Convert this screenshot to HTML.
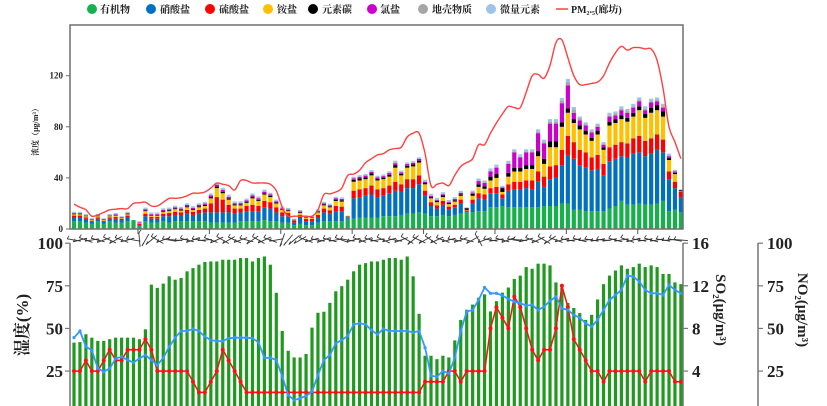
<!DOCTYPE html>
<html><head><meta charset="utf-8">
<style>
html,body{margin:0;padding:0;background:#fff;}
svg{display:block;}
.t{font-family:"Liberation Serif","Noto Serif CJK SC",serif;font-weight:bold;fill:#222;}
</style></head>
<body>
<svg id="chart" width="827" height="406" viewBox="0 0 827 406" xmlns="http://www.w3.org/2000/svg">
<g id="legend">
  <g><circle cx="92" cy="9" r="5" fill="#16b14c"/><text class="t" x="100" y="13" font-size="10">有机物</text></g>
  <g><circle cx="151" cy="9" r="5" fill="#0070c0"/><text class="t" x="160" y="13" font-size="10">硝酸盐</text></g>
  <g><circle cx="210" cy="9" r="5" fill="#ff0000"/><text class="t" x="219" y="13" font-size="10">硫酸盐</text></g>
  <g><circle cx="268" cy="9" r="5" fill="#ffc000"/><text class="t" x="277" y="13" font-size="10">铵盐</text></g>
  <g><circle cx="313" cy="9" r="5" fill="#000"/><text class="t" x="322" y="13" font-size="10">元素碳</text></g>
  <g><circle cx="372" cy="9" r="5" fill="#cc00cc"/><text class="t" x="380" y="13" font-size="10">氯盐</text></g>
  <g><circle cx="423" cy="9" r="5" fill="#a6a6a6"/><text class="t" x="432" y="13" font-size="10">地壳物质</text></g>
  <g><circle cx="491" cy="9" r="5" fill="#9dc3e6"/><text class="t" x="500" y="13" font-size="10">微量元素</text></g>
  <g><line x1="556" y1="9" x2="568" y2="9" stroke="#ff4040" stroke-width="1.5"/><text class="t" x="571" y="13" font-size="10">PM₂.₅(廊坊)</text></g>
</g>
<text class="t" font-size="8" font-weight="normal" transform="translate(38,130) rotate(-90)" text-anchor="middle">浓度（μg/m³）</text>
<text class="t" font-size="17" transform="translate(28,325) rotate(-90)" text-anchor="middle">湿度(%)</text>
<text class="t" font-size="15" transform="translate(716,310) rotate(90)" text-anchor="middle">SO₂(μg/m³)</text>
<text class="t" font-size="15" transform="translate(798,310) rotate(90)" text-anchor="middle">NO₂(μg/m³)</text>
<g id="topG"></g>
<g id="botG"></g>
</svg>
<script>
const org=[6,6,5,4,6,4,6,5,5,6,7,2, 6,5,5,6,5,6,6,6,6,6,6, 5,5,5,5,5,6,6,6,6,7,6,6,5,5, 3,4,3,3,5,6,6,6,6,8, 8,9,9,9,9,10,10,10,11,12,12,13, 12,10,10,11,10,11,12,13,13,14,14, 17,17,18,17,17,17,17,17,17,18,18,18,20, 20,15,15,14,14,14,14,16,18,22,19,19,20, 19,19,20,22,14,15,13];
const nit=[3,3,3,2,2,2,2,3,2,3,0,1, 4,3,3,4,5,5,5,6,5,6,7, 8,8,8,8,7,7,8,8,8,10,10,7,5,5, 2,5,3,3,4,7,6,8,8,1, 16,16,17,18,16,16,18,20,18,20,20,22, 14,8,6,8,5,6,8,1,7,10,9, 11,11,6,13,14,14,15,14,20,15,21,22,30, 38,40,35,34,32,33,28,37,37,35,37,40,40, 38,40,42,38,25,17,12];
const sul=[1.5,1.5,1,.5,1,.5,1,1.5,1,1.5,0,1, 2,1.5,1.5,2,2.5,2.5,2,3,2.5,3,3, 7,12,10,6,4,3,4,5,4,5,5,4,3,2.5, 1.5,2,2,2,2,3,2.5,4,3.5,.3, 6,6,6,7,6,6,6,7,6,7,7,7, 4,3,2.5,3,2.5,2,3,.5,3,4,4, 4,5,3,5,6,6,6,7,8,8,10,10,12, 15,13,12,12,10,11,9,11,11,11,11,12,13, 12,12,12,10,6,5,4];
const amm=[1,1,1,.5,1,.5,1,1,.5,1,0,.5, 2,1,1,1.5,1.5,2,1.5,2,1.5,2,2, 4,7,5,4,2.5,2.5,2.5,5,4,5,4,3,2,1.5, .3,1.5,.8,.8,2,2.5,2.5,4,4,.3, 7,7,7,8,7,7,7,11,7,9,10,10, 5,3,2.5,3,2,2.5,3,.5,3,5,4.5, 6,7,2,6,8,8,9,9,12,10,15,14,18, 18,15,16,14,13,16,11,17,17,18,17,17,20, 18,20,19,18,9,6,.5];
const ec=[.4,.4,.3,.3,.3,.3,.3,.4,.3,.4,0,.3, .6,.5,.5,.6,.7,.7,.7,.8,.7,.8,.9, 1,1.2,1.2,1,.8,.8,.9,1,.9,1,1,.8,.6,.6, .3,.6,.4,.4,.6,.8,.8,1,1,.3, 1.5,1.5,1.5,1.5,1.2,1.2,1.5,2,1.2,1.5,1.5,1.5, 1,1,1,1.2,1,1,1.2,1.2,1.5,2,2, 3,3,3,3,3,3,3,3,4,4,4.5,4.5,3.5, 3.5,3,3,3,2.5,3,2,3,3,3,3,3,3, 3,4,4,4,1.5,1,.8];
const cl=[.6,.6,.5,.4,.5,.4,.5,.6,.5,.6,0,.5, .8,.6,.6,.8,.8,.8,.8,1,.8,1,1, 1.2,1.5,1.5,1.2,.9,.9,1,1.2,1.2,1.2,1,.8,.6,.6, .3,.6,.4,.4,.6,.8,.8,1,1,.2, 1.2,1.3,1.3,1.3,1.2,1.2,1.3,1.5,1.2,1.3,1.3,1.3, 1,1,.8,1,.8,1,1,.3,1,2.5,2.5, 4,5,.5,7,12,8,10,10,14,12,14,14,15, 18,5,4,4,4,3,2,4,3,4,4,4,4, 3,4,3,3,1.5,1,.3];
const crust=[.2,.2,.2,.2,.2,.2,.2,.2,.2,.2,0,.2, .3,.3,.3,.3,.3,.3,.3,.3,.3,.3,.3, .4,.4,.4,.4,.4,.4,.4,.4,.4,.4,.4,.4,.3,.3, .2,.2,.2,.2,.2,.2,.2,.2,.2,.1, .3,.3,.3,.3,.3,.3,.3,.5,.3,.3,.3,.3, .4,.4,.4,.4,.4,.4,.4,.2,.4,.5,.5, .6,.6,.3,.6,.6,.6,.6,.6,1,1,1.5,1.5,2, 2.5,2.5,1.5,1,1,1,.5,1,1,1,1,1,1, 1,1,1,1,.5,.3,.2];
const trace=[.8,.8,.8,.6,.8,.6,.8,.8,.6,.8,0,.6, 1,1,1,1,1,1,1,1,1,1,1, 1.2,1.2,1.2,1.2,1,1,1,1.2,1,1.2,1,1,1,1, .5,1,.8,.8,1,1,1,1,1,.3, 1,1,1,1,1,1,1,1.5,1,1,1,1, 1.2,1.2,1.2,1.2,1,1,1.2,.3,1.2,1.5,1.5, 1.8,1.8,1,1.8,1.8,1.8,1.8,1.8,2,2,2,2,2, 2.5,2,1.5,1.5,1.5,1.5,1.5,2,2,2,2,2,2, 2,2,2,2,1.5,1,.3];
const pm25=[19.5,17,15,10,11,13,15,15.5,16,16, 20,20.5,21,18,18,21,24,24,24.5,26, 28,28,29,32,36,35,34,30.5,38,38, 36,36,36,35,30,17,10,10,10,10, 10,15,27,27.5,29,32,42,43,46,52, 55,58,59,62,63,64,72,75,75,59, 34,35,36,34,42,49,52,55,66,66, 75,83,90,96,95,95,107,120,121,118, 128,146,148,134,120,113,113,114,115,120, 130,138,143,140,142,142,141,141,132,110, 80,68,55];
const humidity=[41.7,42,46.6,44.6,42.7,42.7,43.7,44.6,44.6,44.6,44.6,43.7,49.5,75.7,73.8,76.3,80.6,78.6,79.6,83.5,85.4,87.4,89,89.3,89.3,90.3,90.3,90.3,91.3,91.3,89.3,91.3,92.2,87.4,70.9,48.5,36.9,33,33,35,50.5,59.2,59.8,65,71.8,74.8,78.6,83.5,87.4,88.3,89.3,89.3,90.3,91.3,91.3,90.3,92.2,80.6,
 58.6,34,34,32,34,33,43,55,61,64,68,70,60,66,71,74,79,81,86,85,88,88,87,77,74,65,62,59,55,58,67,76,81,84,87,85,86,88,86,87,86,82,82,77,76];
const so2=[4,4,5,4,4,5,6,5,5,6,6,6,7,6,4, 4,4,4,4,4, 3,2,2,3,4,6, 5,4,3,2,
 2,2,2,2,2,2,2,2,2,2,2,2,2,2,2,2,2,2,2,2,2,2,2,2,2,2,2,2,2,
 3,3,3,3,4,4,3,4,4,4,4,8,10,9,8,11,10,8,6,5,6,6,8,12,10,7,6,5,4,4,3,4,4,4,4,4,4,3,4,4,4,4,3,3];
const no2=[44.6,48.5,39.3,37.3,26.6,24.6,26.6,32.4,33.4,31.5,30,32.4,34.4,31.5,28.5,32.8,39.3,44.6,48.5,48.5,49.7,48.5,45.2,43.2,42.6,42.6,44.2,44.6,44.6,44.6,44.2,41.8,32.8,32.8,31.5,21.7,10.9,8,9,10.5,12.9,22.7,31.5,34.4,41.3,43.2,45.6,52.4,53,52.4,49,46.5,49.7,48.5,48.5,48.5,48.5,47.7,48.5,
 38.7,22.3,21.7,25,23.6,32.8,48.5,59.9,60.8,66.7,74,70.6,70.6,69.3,67.3,65.7,64.8,63.4,63.8,60.8,62.8,66.1,68.7,61.8,
 60.8,57.9,56.3,53,51,55,60.8,66.7,69.6,72.6,81,80.4,77.5,72.6,70.6,70.6,69.6,75.5,72.6,70.6];
const windDir=[10,-15,20,-10,15,-20,25,-30,20,-15,10,85,-60,-40,30,-20,10,5,-10,15,-20,10,-5,20,-25,30,-30,25,-20,15,-35,30,-25,20,-10,-70,-50,-40,-30,20,-15,10,-20,15,-10,20,10,-15,20,-20,15,-10,25,-15,10,-20,30,-40,25,-30,35,-25,20,-15,10,-20,15,-30,60,-20,10,-10,15,-20,10,5,-15,20,-25,30,-35,20,-15,10,-10,15,-5,10,-10,5,-10,15,-10,20,-15,10,-10,15,-10,10,-5,10,5];
const topTicks=[0,40,80,120];
const humTicks=[100,75,50,25];
const so2Ticks=[16,12,8,4];
const no2Ticks=[100,75,50,25];

const NS='http://www.w3.org/2000/svg';
function mk(tag,attrs,parent){const e=document.createElementNS(NS,tag);for(const k in attrs)e.setAttribute(k,attrs[k]);parent.appendChild(e);return e;}
const N=org.length;
const xC=i=>74+i*5.95;
const yTop=v=>229-v*1.2775;
const yBot=v=>413.7-v*1.705;
const ySO2=v=>413.7-v*10.66;
const topG=document.getElementById('topG');
const botG=document.getElementById('botG');

const series=[[org,'#16b14c','organic'],[nit,'#0070c0','nitrate'],[sul,'#ff0000','sulfate'],[amm,'#ffc000','ammonium'],[ec,'#000000','ec'],[cl,'#cc00cc','chloride'],[crust,'#a6a6a6','crustal'],[trace,'#9dc3e6','trace']];
for(let i=0;i<N;i++){
  let acc=0;
  for(const s of series){
    const arr=s[0],col=s[1],nm=s[2];
    const v=arr[i]; if(!v) continue;
    const r=mk('rect',{x:xC(i)-2.1,y:yTop(acc+v),width:4.2,height:yTop(acc)-yTop(acc+v),fill:col},topG);
    
    
    acc+=v;
  }
}
const pts=pm25.map((v,i)=>[xC(i),yTop(v)]);
let d='M'+pts[0][0]+','+pts[0][1];
for(let i=0;i<pts.length-1;i++){
  const p0=pts[Math.max(0,i-1)],p1=pts[i],p2=pts[i+1],p3=pts[Math.min(pts.length-1,i+2)];
  const c1=[p1[0]+(p2[0]-p0[0])/6,p1[1]+(p2[1]-p0[1])/6];
  const c2=[p2[0]-(p3[0]-p1[0])/6,p2[1]-(p3[1]-p1[1])/6];
  d+=' C'+c1[0].toFixed(1)+','+c1[1].toFixed(1)+' '+c2[0].toFixed(1)+','+c2[1].toFixed(1)+' '+p2[0].toFixed(1)+','+p2[1].toFixed(1);
}
const pml=mk('path',{d:d,fill:'none',stroke:'#ff4040','stroke-width':1.4},topG);


const fr=mk('rect',{x:70,y:25,width:613,height:204,fill:'none',stroke:'#6e6e6e','stroke-width':1.5},topG);


for(const t of topTicks){
  mk('line',{x1:66,y1:yTop(t),x2:70,y2:yTop(t),stroke:'#6e6e6e','stroke-width':1},topG);
  const tx=mk('text',{x:63,y:yTop(t)+3,'text-anchor':'end','font-size':9,class:'t'},topG);
  tx.textContent=t;
  
  
}
for(let k=0;k<8;k++){
  const x=xC(10.75+12*k);
  mk('line',{x1:x,y1:229,x2:x,y2:234,stroke:'#555','stroke-width':1},topG);
}
for(let i=0;i<N;i++){
  const a=windDir[i]*Math.PI/180, L=7;
  const cx=xC(i), cy=240;
  const x1=cx-L*Math.cos(a),y1=cy-L*Math.sin(a),x2=cx+L*Math.cos(a),y2=cy+L*Math.sin(a);
  const w=mk('line',{x1:x1,y1:y1,x2:x2,y2:y2,stroke:'#333','stroke-width':0.9},botG);
  
  
  mk('line',{x1:x1,y1:y1,x2:x1+2,y2:y1-3,stroke:'#333','stroke-width':0.8},botG);
}
for(let i=0;i<N;i++){
  const r=mk('rect',{x:xC(i)-1.6,y:yBot(humidity[i]),width:3.2,height:413.7-yBot(humidity[i]),fill:'#1f9a1f'},botG);
  
  
}
const so2p=so2.map((v,i)=>xC(i).toFixed(1)+','+ySO2(v).toFixed(1)).join(' ');
const sl=mk('polyline',{points:so2p,fill:'none',stroke:'#ff1010','stroke-width':1.5},botG);


so2.forEach((v,i)=>{const c=mk('circle',{cx:xC(i),cy:ySO2(v),r:2,fill:'#ff1010'},botG);
  
  });
const no2p=no2.map((v,i)=>xC(i).toFixed(1)+','+yBot(v).toFixed(1)).join(' ');
const nl=mk('polyline',{points:no2p,fill:'none',stroke:'#3399ff','stroke-width':1.8},botG);


no2.forEach((v,i)=>{const c=mk('circle',{cx:xC(i),cy:yBot(v),r:1.6,fill:'#3399ff'},botG);
  
  });
mk('line',{x1:70,y1:243,x2:70,y2:406,stroke:'#777','stroke-width':1.5},botG);
mk('line',{x1:683,y1:243,x2:683,y2:406,stroke:'#777','stroke-width':1.5},botG);
mk('line',{x1:758,y1:243,x2:758,y2:406,stroke:'#777','stroke-width':1.5},botG);
for(const t of humTicks){
  mk('line',{x1:65,y1:yBot(t),x2:70,y2:yBot(t),stroke:'#777','stroke-width':1.2},botG);
  const tx=mk('text',{x:63,y:yBot(t)+6,'text-anchor':'end','font-size':17,class:'t'},botG);
  tx.textContent=t;
  
  
}
for(const t of so2Ticks){
  mk('line',{x1:683,y1:ySO2(t),x2:688,y2:ySO2(t),stroke:'#777','stroke-width':1.2},botG);
  const tx=mk('text',{x:692,y:ySO2(t)+6,'text-anchor':'start','font-size':17,class:'t'},botG);
  tx.textContent=t;
  
  
}
for(const t of no2Ticks){
  mk('line',{x1:758,y1:yBot(t),x2:763,y2:yBot(t),stroke:'#777','stroke-width':1.2},botG);
  const tx=mk('text',{x:767,y:yBot(t)+6,'text-anchor':'start','font-size':17,class:'t'},botG);
  tx.textContent=t;
  
  
}
</script>
</body></html>
